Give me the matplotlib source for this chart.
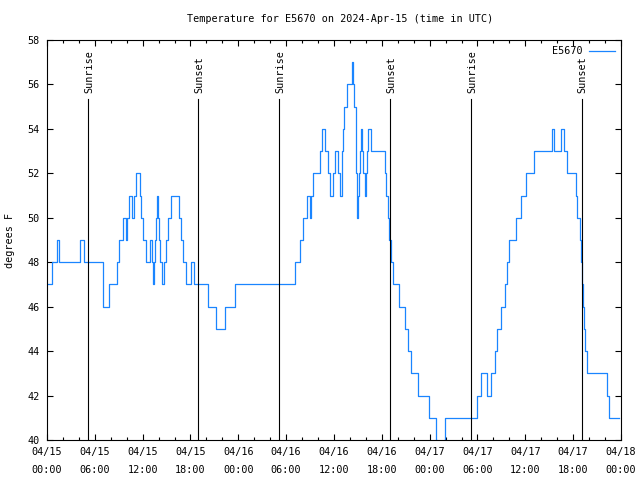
import matplotlib
matplotlib.use("Agg")
import matplotlib.pyplot as plt

# temperature readings: hours since 2024-04-15 00:00 UTC, degrees F (value holds until next entry)
hours = [0.0, 0.6, 1.2, 1.5, 4.2, 4.7, 7.0, 7.75, 8.75, 9.05, 9.5, 9.85, 10.1, 10.35,
         10.7, 10.9, 11.2, 11.7, 11.85, 12.1, 12.4, 12.9, 13.15, 13.3, 13.45, 13.55,
         13.65, 13.8, 13.95, 14.05, 14.2, 14.4, 14.7, 14.9, 15.2, 15.55, 16.6, 16.8,
         17.0, 17.45, 18.1, 18.45, 20.2, 21.25, 22.3, 23.55,
         31.05, 31.8, 32.15, 32.6, 32.95, 33.1, 33.4, 34.2, 34.5, 34.85, 35.3, 35.5,
         35.85, 36.1, 36.5, 36.75, 36.95, 37.05, 37.15, 37.25, 37.6, 38.2, 38.4, 38.5,
         38.7, 38.8, 38.9, 39.05, 39.15, 39.25, 39.35, 39.55, 39.7, 39.85, 40.0, 40.15,
         40.3, 40.65, 42.35, 42.55, 42.75, 42.95, 43.1, 43.45, 44.2, 44.9, 45.25, 45.6,
         46.6, 47.9, 48.8, 48.9, 49.85, 49.95,
         53.9, 54.5, 55.2, 55.75, 56.25, 56.5, 56.9, 57.45, 57.7, 57.95, 58.8, 59.4,
         60.1, 61.1, 63.35, 63.55, 64.5, 64.8, 65.2, 66.3, 66.5, 66.8, 67.0, 67.1,
         67.2, 67.3, 67.45, 67.7, 70.2, 70.55, 71.8]
temps = [47, 48, 49, 48, 49, 48, 46, 47, 48, 49, 50, 49, 50, 51,
         50, 51, 52, 51, 50, 49, 48, 49, 48, 47, 48, 49,
         50, 51, 50, 49, 48, 47, 48, 49, 50, 51, 50, 49,
         48, 47, 48, 47, 46, 45, 46, 47,
         48, 49, 50, 51, 50, 51, 52, 53, 54, 53, 52, 51,
         52, 53, 52, 51, 52, 53, 54, 55, 56, 57, 56, 55,
         54, 52, 50, 51, 52, 53, 54, 53, 52, 51, 52, 53,
         54, 53, 52, 51, 50, 49, 48, 47, 46, 45, 44, 43,
         42, 41, 40, 39, 40, 41,
         42, 43, 42, 43, 44, 45, 46, 47, 48, 49, 50, 51,
         52, 53, 54, 53, 54, 53, 52, 51, 50, 49, 48, 47,
         46, 45, 44, 43, 42, 41, 41]

sun_hours = [5.17, 18.98, 29.15, 43.05, 53.15, 67.05]
sun_labels = ["Sunrise", "Sunset", "Sunrise", "Sunset", "Sunrise", "Sunset"]

xtick_hours = list(range(0, 73, 6))
xtick_labels = ["04/15\n00:00", "04/15\n06:00", "04/15\n12:00", "04/15\n18:00",
                "04/16\n00:00", "04/16\n06:00", "04/16\n12:00", "04/16\n18:00",
                "04/17\n00:00", "04/17\n06:00", "04/17\n12:00", "04/17\n18:00",
                "04/18\n00:00"]
ytick_vals = list(range(40, 59, 2))

plt.rcParams['font.family'] = ['DejaVu Sans Mono']
plt.rcParams['font.size'] = 7.3

fig = plt.figure(figsize=(6.4, 4.8), dpi=100)
ax = fig.add_axes([0.0734, 0.0833, 0.8969, 0.8333])

ax.plot(hours, temps, drawstyle='steps-post', color='#1a85ff', lw=0.9, label='E5670')

for h, lab in zip(sun_hours, sun_labels):
    ax.plot([h, h], [40, 55.33], color='black', lw=0.8)
    ax.text(h + 0.15, 55.62, lab, rotation=90, ha='center', va='bottom')

ax.set_xlim(0, 72)
ax.set_ylim(40, 58)
ax.set_xticks(xtick_hours)
ax.set_xticklabels(xtick_labels, linespacing=1.95)
ax.set_xticks(range(0, 73, 2), minor=True)
ax.set_yticks(ytick_vals)
ax.tick_params(which='both', direction='in', top=True, right=True, width=0.8)
ax.tick_params(axis='x', pad=5)
ax.tick_params(axis='y', pad=5)
ax.tick_params(which='major', length=4.5)
ax.tick_params(which='minor', length=2.5)
for s in ax.spines.values():
    s.set_linewidth(0.8)

ax.set_ylabel('degrees F', labelpad=9)
fig.text(340 / 640, 1 - 19 / 480, 'Temperature for E5670 on 2024-Apr-15 (time in UTC)',
         ha='center', va='center')

ax.legend(loc='upper right', markerfirst=False, frameon=False, handlelength=2.6,
          borderaxespad=0.2, handletextpad=0.6)

fig.savefig('out.png', dpi=100)
